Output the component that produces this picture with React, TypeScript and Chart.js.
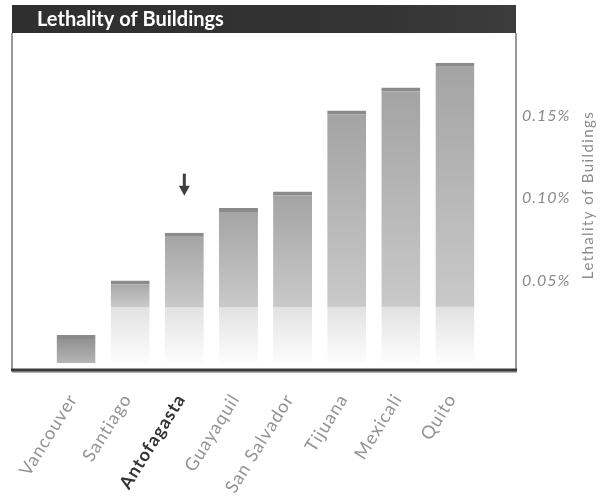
import { useEffect, useRef } from "react";
import { Chart, registerables } from "chart.js";

Chart.register(...registerables);

// Data
const cities = [
  "Vancouver",
  "Santiago",
  "Antofagasta",
  "Guayaquil",
  "San Salvador",
  "Tijuana",
  "Mexicali",
  "Quito",
];
const lethality = [0.017, 0.05, 0.079, 0.094, 0.104, 0.153, 0.167, 0.182];
const yTickValues = [0.05, 0.1, 0.15];
const highlightedCity = "Antofagasta";
const chartTitle = "Lethality of Buildings";
const yAxisTitle = "Lethality of Buildings";

const FONT = "Lato, 'DejaVu Sans', sans-serif";

// Value below which bars dissolve into a pale reflection band
const FADE_LEVEL = 0.034;

function barFill(ctx: any) {
  const chart = ctx.chart;
  const y = chart.scales?.y;
  if (!y || ctx.dataIndex === undefined) return "#aaaaaa";
  const v = lethality[ctx.dataIndex];
  const top = y.getPixelForValue(v);
  const base = y.getPixelForValue(0);
  const fadeY = y.getPixelForValue(FADE_LEVEL);
  if (![top, base, fadeY].every(Number.isFinite) || base - top < 1) return "#aaaaaa";
  const g = chart.ctx.createLinearGradient(0, top, 0, base);
  if (top >= fadeY - 2) {
    g.addColorStop(0, "#8c8c8c");
    g.addColorStop(1, "#b4b4b4");
    return g;
  }
  const f = (fadeY - top) / (base - top);
  g.addColorStop(0, "#a3a3a3");
  g.addColorStop(Math.max(0, f - 0.002), "#c9c9c9");
  g.addColorStop(Math.min(1, f), "#e2e2e2");
  g.addColorStop(1, "#fdfdfd");
  return g;
}

// Title band, frame and the pointer above the highlighted city
const decorations = {
  id: "decorations",
  beforeDraw(chart: any) {
    const { ctx, chartArea } = chart;
    const left = chartArea.left - 37;
    const right = chartArea.right + 34;
    ctx.save();
    const band = ctx.createLinearGradient(left, 0, right, 0);
    band.addColorStop(0, "#2f2f2f");
    band.addColorStop(0.7, "#333333");
    band.addColorStop(1, "#3c3c3c");
    ctx.fillStyle = band;
    ctx.fillRect(left, 5, right - left, chartArea.top - 5);
    ctx.fillStyle = "#ffffff";
    ctx.font = `bold 20px ${FONT}`;
    ctx.letterSpacing = "0px";
    ctx.textBaseline = "alphabetic";
    ctx.textAlign = "left";
    ctx.fillText(chartTitle, left + 25, chartArea.top - 7);
    ctx.restore();
    // wide tracking for the axis lettering that follows
    ctx.letterSpacing = "1px";
  },
  afterDraw(chart: any) {
    const { ctx, chartArea } = chart;
    const left = chartArea.left - 37;
    const right = chartArea.right + 34;
    const bottom = chartArea.bottom + 7;
    ctx.save();
    // side borders
    ctx.strokeStyle = "#9a9a9a";
    ctx.lineWidth = 2;
    ctx.beginPath();
    ctx.moveTo(left, chartArea.top);
    ctx.lineTo(left, bottom);
    ctx.moveTo(right, chartArea.top);
    ctx.lineTo(right, bottom + 2);
    ctx.stroke();
    // heavy baseline
    ctx.strokeStyle = "#b5b5b5";
    ctx.lineWidth = 2;
    ctx.beginPath();
    ctx.moveTo(left, bottom + 2);
    ctx.lineTo(right + 1, bottom + 2);
    ctx.stroke();
    ctx.strokeStyle = "#3a3a3a";
    ctx.lineWidth = 3;
    ctx.beginPath();
    ctx.moveTo(left - 1, bottom);
    ctx.lineTo(right + 1, bottom);
    ctx.stroke();

    // y-axis title, reading upward
    const yScale = chart.scales.y;
    ctx.fillStyle = "#8c8c8c";
    ctx.font = `15px ${FONT}`;
    ctx.letterSpacing = "1.4px";
    ctx.textAlign = "center";
    ctx.textBaseline = "middle";
    ctx.translate(yScale.right - 27, (chartArea.top + chartArea.bottom) / 2 - 3);
    ctx.rotate(-Math.PI / 2);
    ctx.fillText(yAxisTitle, 0, 0);
    ctx.restore();

    // down arrow above the highlighted bar
    const idx = cities.indexOf(highlightedCity);
    const bar = chart.getDatasetMeta(0).data[idx];
    if (bar) {
      const cx = bar.x;
      const tip = bar.y - 37;
      ctx.save();
      ctx.fillStyle = "#3f3f3f";
      ctx.fillRect(cx - 1.5, tip - 22, 3, 13);
      ctx.beginPath();
      ctx.moveTo(cx - 5.5, tip - 10);
      ctx.lineTo(cx + 5.5, tip - 10);
      ctx.lineTo(cx, tip);
      ctx.closePath();
      ctx.fill();
      ctx.restore();
    }
    ctx.letterSpacing = "0px";
  },
};

export default function App() {
  const canvasRef = useRef<HTMLCanvasElement | null>(null);

  useEffect(() => {
    if (!canvasRef.current) return;
    const chart = new Chart(canvasRef.current, {
      type: "bar",
      data: {
        labels: cities,
        datasets: [
          {
            data: lethality,
            backgroundColor: barFill,
            borderColor: "#8b8b8b",
            borderWidth: { top: 4, left: 0, right: 0, bottom: 0 },
            borderSkipped: "bottom",
            barPercentage: 0.72,
            categoryPercentage: 1,
          },
        ],
      },
      options: {
        responsive: false,
        animation: false,
        layout: { padding: { top: 33, left: 49, right: 0, bottom: 0 } },
        plugins: {
          legend: { display: false },
          tooltip: { enabled: false },
          title: { display: false },
        },
        scales: {
          x: {
            grid: { display: false, drawTicks: false },
            border: { display: false },
            afterFit: (scale: any) => {
              scale.height = 134;
              scale.paddingLeft = 0;
              scale.paddingRight = 0;
            },
            ticks: {
              autoSkip: false,
              minRotation: 58,
              maxRotation: 58,
              padding: 27,
              labelOffset: -3,
              color: (c: any) =>
                cities[c.index] === highlightedCity ? "#333333" : "#939393",
              font: (c: any) => ({
                family: FONT,
                size: 18,
                weight: cities[c.index] === highlightedCity ? "bold" : "normal",
              }),
            },
          },
          y: {
            position: "right",
            min: 0,
            max: 0.2,
            grid: { display: false, drawTicks: false },
            border: { display: false },
            afterFit: (scale: any) => {
              scale.width = 133;
              scale.paddingTop = 0;
              scale.paddingBottom = 0;
            },
            afterBuildTicks: (scale: any) => {
              scale.ticks = [0, ...yTickValues, 0.2].map((v) => ({ value: v }));
            },
            ticks: {
              padding: 40,
              color: "#8a8a8a",
              font: { family: FONT, size: 16, style: "italic" },
              callback: (v: any) =>
                yTickValues.some((t) => Math.abs(t - v) < 1e-9)
                  ? `${Number(v).toFixed(2)}%`
                  : "",
            },
          },
        },
      },
      plugins: [decorations],
    });
    return () => chart.destroy();
  }, []);

  return (
    <div style={{ position: "fixed", left: 0, top: 0, width: 615, height: 497, background: "#ffffff" }}>
      <canvas ref={canvasRef} width={615} height={497} />
    </div>
  );
}
